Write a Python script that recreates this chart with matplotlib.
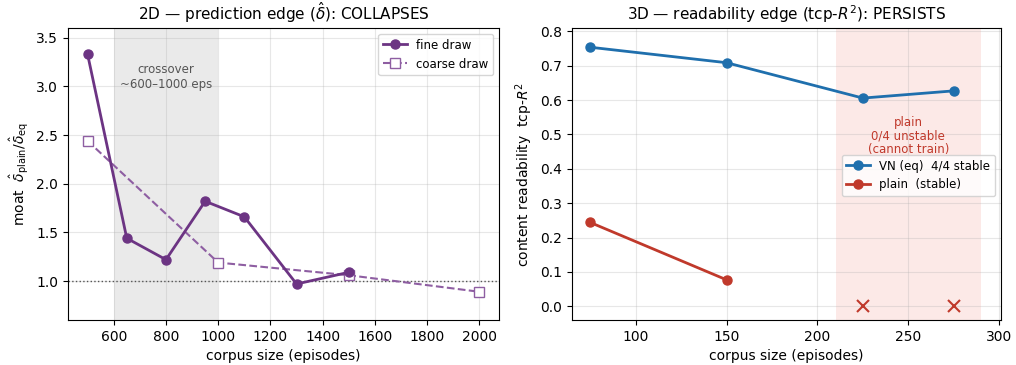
import matplotlib
matplotlib.use('Agg')
import matplotlib.pyplot as plt

# 2D panel data
fine_x = [500, 650, 800, 950, 1100, 1300, 1500]
fine_y = [3.33, 1.44, 1.22, 1.82, 1.66, 0.97, 1.09]
coarse_x = [500, 1000, 1500, 2000]
coarse_y = [2.44, 1.19, 1.06, 0.89]

# 3D panel data
vn_x = [75, 150, 225, 275]
vn_y = [0.754, 0.709, 0.606, 0.627]
plain_x = [75, 150]
plain_y = [0.244, 0.077]
fail_x = [225, 275]
fail_y = [0.0, 0.0]

purple = '#6c3483'
purple_l = '#8e5ea2'
blue = '#1f6fad'
red = '#c0392b'

W, H = 1016, 365
fig = plt.figure(figsize=(W / 100, H / 100), dpi=100)
ax = fig.add_axes([68 / W, 45 / H, 431 / W, 292 / H])
ax2 = fig.add_axes([572 / W, 45 / H, 429 / W, 292 / H])

# left
ax.axvspan(600, 1000, color='#d9d9d9', alpha=0.55, lw=0)
ax.axhline(1.0, color='#555555', ls=':', lw=1)
ax.plot(coarse_x, coarse_y, '--s', color=purple_l, lw=1.5, ms=6.5, mfc='white',
        label='coarse draw', zorder=2)
ax.plot(fine_x, fine_y, '-o', color=purple, lw=2, ms=6.5, label='fine draw', zorder=3)
ax.text(800, 3.1, 'crossover\n~600–1000 eps', ha='center', va='center',
        fontsize=8.5, color='#555555')
ax.set_xlim(425, 2075)
ax.set_ylim(0.6, 3.6)
ax.set_xticks(range(600, 2001, 200))
ax.set_xlabel('corpus size (episodes)')
ax.set_ylabel(r'moat  $\hat{\delta}_{\rm plain}/\hat{\delta}_{\rm eq}$')
ax.set_title(r'2D — prediction edge ($\hat{\delta}$): COLLAPSES', fontsize=11)
ax.grid(True, alpha=0.3)
h, l = ax.get_legend_handles_labels()
ax.legend(h[::-1], l[::-1], loc='upper right', fontsize=8.5)

# right
ax2.axvspan(210, 290, color='#fadbd8', alpha=0.6, lw=0)
ax2.plot(vn_x, vn_y, '-o', color=blue, lw=2, ms=6.5, label='VN (eq)  4/4 stable')
ax2.plot(plain_x, plain_y, '-o', color=red, lw=2, ms=6.5, label='plain  (stable)')
ax2.plot(fail_x, fail_y, 'x', color=red, ms=9, mew=1.5)
ax2.text(250, 0.495, 'plain\n0/4 unstable\n(cannot train)', ha='center', va='center',
         fontsize=8.5, color=red, linespacing=1.05)
ax2.set_xlim(65, 301)
ax2.set_ylim(-0.04, 0.81)
ax2.set_xlabel('corpus size (episodes)')
ax2.set_ylabel(r'content readability  tcp-$R^2$')
ax2.set_title(r'3D — readability edge (tcp-$R^2$): PERSISTS', fontsize=11)
ax2.grid(True, alpha=0.3)
ax2.legend(loc='center right', bbox_to_anchor=(1.0, 0.495), fontsize=8.5)

fig.savefig('out.png', dpi=100)
